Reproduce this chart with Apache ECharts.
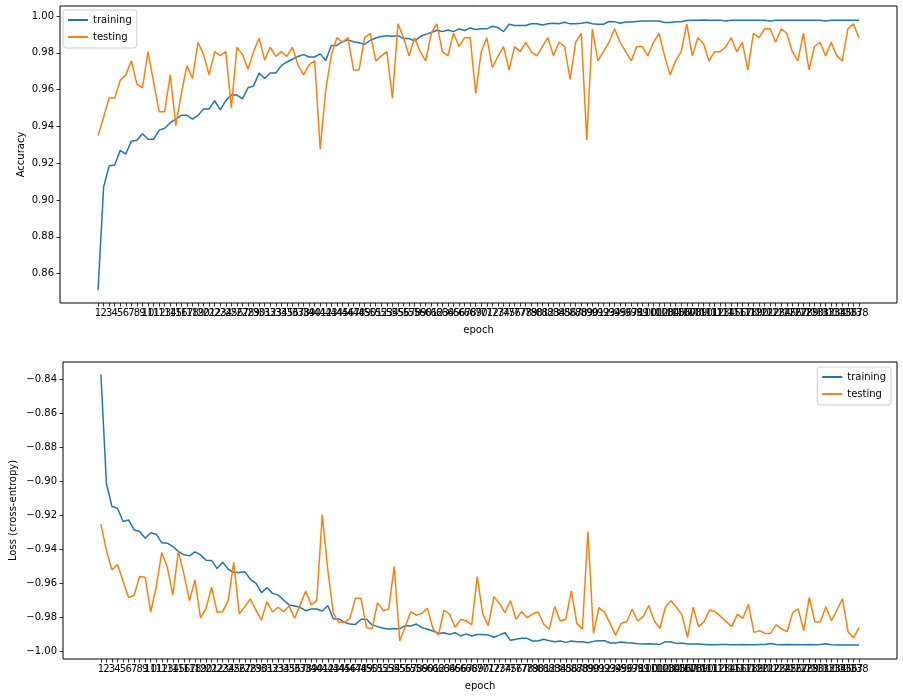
<!DOCTYPE html>
<html>
<head>
<meta charset="utf-8">
<script src="https://cdn.jsdelivr.net/npm/echarts@6/dist/echarts.min.js"></script>
<style>
html,body{margin:0;padding:0;background:#fff;}
#chart{width:903px;height:697px;}
</style>
</head>
<body>
<div id="chart"></div>
<script>
// Epoch categories 1..138
const epochs = [];
for (let i = 1; i <= 138; i++) epochs.push(String(i));

const trainAcc = [
0.851,0.907,0.9186,0.919,0.927,0.925,0.932,0.9325,0.936,0.933,0.933,0.938,0.939,0.942,0.944,0.946,0.946,0.944,0.946,0.9495,0.9495,0.954,0.949,0.954,0.957,0.957,0.955,0.961,0.962,0.969,0.966,0.969,0.969,0.973,
0.975,0.9765,0.978,0.979,0.9777,0.9777,0.9794,0.9758,0.984,0.984,0.986,0.987,0.986,0.9855,0.9845,0.9868,0.988,0.9888,0.9893,0.989,0.9893,0.9877,0.9877,0.9864,0.9888,0.990,0.991,0.9922,0.9915,0.9924,0.9915,0.993,0.9921,0.9935,0.9926,0.993,0.993,0.9944,
0.9937,0.9915,0.9955,0.9948,0.9948,0.9948,0.9958,0.9958,0.9951,0.9957,0.996,0.9958,0.9966,0.9957,0.9958,0.996,0.9966,0.9958,0.9955,0.9955,0.997,0.9969,0.996,0.9967,0.9967,0.997,0.9973,0.9973,0.9973,0.9973,0.9964,0.9964,0.9969,0.9969,0.9975,0.9976,0.9976,0.9978,
0.9977,0.9977,0.9976,0.9972,0.9976,0.9977,0.9977,0.9976,0.9976,0.9977,0.9976,0.9972,0.9976,0.9977,0.9976,0.9977,0.9977,0.9977,0.9976,0.9977,0.9976,0.9972,0.9977,0.9977,0.9977,0.9977,0.9977,0.9977
];
const testAcc = [
0.935,0.945,0.9555,0.9555,0.965,0.968,0.9756,0.963,0.961,0.9806,0.964,0.948,0.948,0.968,0.9405,0.958,0.973,0.966,0.9857,0.979,0.968,0.9806,0.9785,0.9806,0.950,0.983,0.979,0.971,0.9806,0.988,0.976,0.983,0.978,0.9806,
0.978,0.983,0.9734,0.968,0.9734,0.9756,0.9278,0.9598,0.9788,0.9882,0.9857,0.9882,0.9707,0.9707,0.9882,0.9906,0.9756,0.9783,0.9806,0.9553,0.9957,0.9882,0.9783,0.9882,0.9806,0.9756,0.9906,0.9957,0.9806,0.9783,0.9906,0.9834,0.9882,0.9882,0.958,0.9806,0.9882,0.972,
0.978,0.9834,0.9707,0.9834,0.9806,0.9857,0.9806,0.9783,0.9834,0.9882,0.9783,0.9857,0.9834,0.9656,0.9857,0.9906,0.9327,0.993,0.9756,0.9806,0.9857,0.993,0.9857,0.9806,0.9756,0.9834,0.9834,0.9783,0.9857,0.9906,0.9783,0.968,0.9756,0.9806,0.9957,0.9783,0.9882,0.985,
0.9756,0.9806,0.9806,0.983,0.9882,0.9806,0.9857,0.9707,0.9906,0.9882,0.993,0.993,0.9857,0.993,0.9906,0.9806,0.9756,0.9906,0.9707,0.9834,0.9857,0.9783,0.9857,0.9783,0.9756,0.993,0.9957,0.9882
];
const trainLoss = [
-0.837,-0.9014,-0.9148,-0.9158,-0.9236,-0.9227,-0.9286,-0.9295,-0.9335,-0.9303,-0.9311,-0.9362,-0.9364,-0.9384,-0.9413,-0.9433,-0.9439,-0.9415,-0.9433,-0.9465,-0.9467,-0.9514,-0.9476,-0.9518,-0.9536,-0.9537,-0.9532,-0.9577,-0.960,-0.9656,-0.9626,-0.966,-0.9669,-0.9699,
-0.9728,-0.9734,-0.9742,-0.9762,-0.9752,-0.9752,-0.9764,-0.9732,-0.9811,-0.9811,-0.9831,-0.9841,-0.9843,-0.9813,-0.9813,-0.9846,-0.9856,-0.9866,-0.987,-0.9868,-0.9868,-0.985,-0.9852,-0.9841,-0.9862,-0.9872,-0.9882,-0.9896,-0.9892,-0.9902,-0.9892,-0.9911,-0.9899,-0.9911,-0.9902,-0.9902,-0.9906,-0.9919,
-0.9906,-0.9892,-0.9937,-0.9931,-0.9925,-0.9925,-0.9941,-0.9941,-0.9931,-0.9939,-0.9945,-0.9941,-0.9949,-0.9941,-0.9945,-0.9945,-0.9951,-0.9943,-0.9939,-0.9939,-0.9953,-0.9953,-0.9947,-0.9951,-0.9953,-0.9957,-0.9959,-0.9957,-0.9959,-0.9961,-0.9945,-0.9947,-0.9955,-0.9953,-0.9959,-0.9959,-0.9959,-0.9961,
-0.9963,-0.9963,-0.9962,-0.9962,-0.9963,-0.9963,-0.9962,-0.9963,-0.9963,-0.9962,-0.9962,-0.9955,-0.9962,-0.9963,-0.9962,-0.9963,-0.9963,-0.9963,-0.9962,-0.9963,-0.9962,-0.9957,-0.9963,-0.9964,-0.9964,-0.9964,-0.9964,-0.9964
];
const testLoss = [
-0.9252,-0.9408,-0.9522,-0.949,-0.9587,-0.9685,-0.9671,-0.9561,-0.9565,-0.977,-0.962,-0.9419,-0.9506,-0.9669,-0.9412,-0.9547,-0.9703,-0.9581,-0.9805,-0.9748,-0.9624,-0.9772,-0.9768,-0.9703,-0.9476,-0.9782,-0.9738,-0.9693,-0.9758,-0.9817,-0.9709,-0.977,-0.9742,-0.9768,
-0.9734,-0.9807,-0.9728,-0.9646,-0.9728,-0.9703,-0.9197,-0.9522,-0.9778,-0.9831,-0.9831,-0.9807,-0.9689,-0.9689,-0.9862,-0.9868,-0.9715,-0.9762,-0.9752,-0.9502,-0.9941,-0.9856,-0.9768,-0.9789,-0.9778,-0.9748,-0.9868,-0.9905,-0.9758,-0.9782,-0.986,-0.9813,-0.9821,-0.9846,-0.9561,-0.9782,-0.985,-0.968,
-0.9719,-0.9774,-0.9703,-0.9813,-0.9768,-0.9803,-0.9782,-0.977,-0.9841,-0.9872,-0.9738,-0.9823,-0.9813,-0.9646,-0.9837,-0.9872,-0.9295,-0.9896,-0.9744,-0.9772,-0.9837,-0.9906,-0.9837,-0.9827,-0.9754,-0.9823,-0.9797,-0.9732,-0.9823,-0.9866,-0.9742,-0.9703,-0.9742,-0.9787,-0.9919,-0.9742,-0.9856,-0.9827,
-0.9758,-0.9768,-0.9797,-0.9827,-0.9856,-0.9784,-0.9807,-0.9724,-0.989,-0.988,-0.9896,-0.9896,-0.9846,-0.987,-0.9886,-0.9774,-0.9752,-0.988,-0.9683,-0.9827,-0.9829,-0.9738,-0.9821,-0.9758,-0.9691,-0.9886,-0.9921,-0.9862
];
const accTicks = [0.86,0.88,0.90,0.92,0.94,0.96,0.98,1.00];
const lossTicks = [-1.00,-0.98,-0.96,-0.94,-0.92,-0.90,-0.88,-0.86,-0.84];

const FONT = 'DejaVu Sans';
const BLUE = '#1f77b4', ORANGE = '#ff7f0e';
const idx = epochs.map((_, i) => i);
const pairs = arr => arr.map((v, i) => [i, v]);
const n = epochs.length;
const xMin = -0.05 * (n - 1), xMax = (n - 1) * 1.05;
const STRIDE = 4;

// main x axis (ticks + name + first label group), plus label-only axes so every epoch label is drawn
function xAxes(gi) {
  const out = [];
  for (let k = 0; k < STRIDE; k++) {
    const vals = idx.filter(i => i % STRIDE === k);
    out.push({
      type: 'value', gridIndex: gi, min: xMin, max: xMax, position: 'bottom', offset: 0,
      name: k === 0 ? 'epoch' : '', nameLocation: 'middle', nameGap: 22,
      nameTextStyle: {fontFamily: FONT, fontSize: 10, color: '#000'},
      axisLine: {show: false, onZero: false},
      splitLine: {show: false},
      axisTick: {show: k === 0, length: 3.5, lineStyle: {color: '#000', width: 0.8}, customValues: idx},
      axisLabel: {fontFamily: FONT, fontSize: 10, color: '#000', margin: 5, hideOverlap: false,
        showMinLabel: true, showMaxLabel: true,
        customValues: vals, formatter: v => epochs[Math.round(v)]}
    });
  }
  return out;
}
function yAxis(gi, name, ticks, mn, mx, gap) {
  return {
    type: 'value', gridIndex: gi, min: mn, max: mx, position: 'left',
    name: name, nameLocation: 'middle', nameGap: gap, nameMoveOverlap: false,
    nameTextStyle: {fontFamily: FONT, fontSize: 10, color: '#000'},
    axisLine: {show: false, onZero: false},
    splitLine: {show: false},
    axisTick: {show: true, length: 3.5, lineStyle: {color: '#000', width: 0.8}, customValues: ticks},
    axisLabel: {fontFamily: FONT, fontSize: 10, color: '#000', margin: 6,
      showMinLabel: true, showMaxLabel: true,
      customValues: ticks, formatter: v => (v < 0 ? '\u2212' : '') + Math.abs(v).toFixed(2)}
  };
}
function legend(pos, names) {
  return Object.assign({
    orient: 'vertical', data: names.map(nm => ({name: nm, icon: 'rect'})),
    itemWidth: 20, itemHeight: 2, itemGap: 5, padding: [4, 5, 5, 5],
    backgroundColor: 'rgba(255,255,255,0.8)', borderColor: '#cccccc', borderWidth: 1, borderRadius: 3,
    textStyle: {fontFamily: FONT, fontSize: 10, color: '#000', lineHeight: 12},
    selectedMode: false
  }, pos);
}
function line(name, data, color, xi, yi) {
  return {type: 'line', name: name, data: pairs(data), xAxisIndex: xi, yAxisIndex: yi,
    showSymbol: false, symbol: 'none', color: color,
    lineStyle: {color: color, width: 1.5}, animation: false, z: name === 'testing' ? 3 : 2};
}

const chart = echarts.init(document.getElementById('chart'), null, {renderer: 'canvas'});
chart.setOption({
  animation: false,
  backgroundColor: '#fff',
  grid: [
    {left: 60, right: 6, top: 6, height: 297, show: true, borderColor: '#000', borderWidth: 1, containLabel: false},
    {left: 60, right: 6, top: 362, height: 297, show: true, borderColor: '#000', borderWidth: 1, containLabel: false}
  ],
  xAxis: xAxes(0).concat(xAxes(1)),
  yAxis: [
    yAxis(0, 'Accuracy', accTicks, 0.8441, 1.0054, 34),
    yAxis(1, 'Loss (cross-entropy)', lossTicks, -1.0047, -0.8296, 45)
  ],
  legend: [
    legend({left: 63, top: 10}, ['training', 'testing']),
    legend({right: 12, top: 367}, ['training', 'testing'])
  ],
  series: [
    line('training', trainAcc, BLUE, 0, 0),
    line('testing', testAcc, ORANGE, 0, 0),
    line('training', trainLoss, BLUE, STRIDE, 1),
    line('testing', testLoss, ORANGE, STRIDE, 1)
  ]
});
</script>
</body>
</html>
